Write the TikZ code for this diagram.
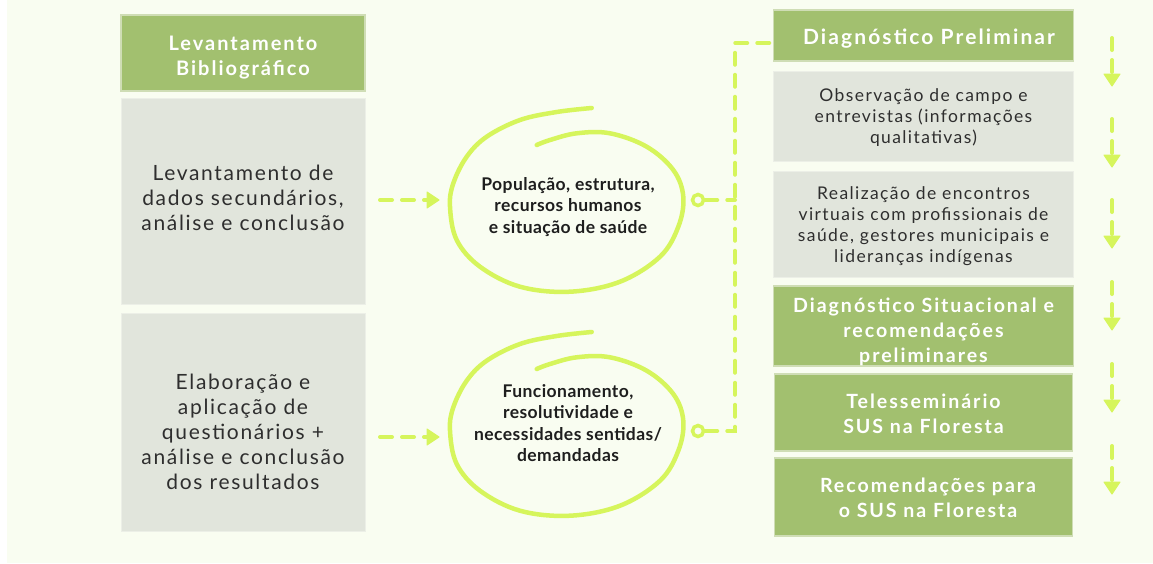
\documentclass[tikz,border=0pt]{standalone}
\usepackage{fontspec}
\setmainfont{Lato}
\newfontfamily\lsA{Lato}[LetterSpace=8]
\newfontfamily\lsB{Lato}[LetterSpace=10]
\newfontfamily\lsC{Lato}[LetterSpace=2.5]
\usetikzlibrary{arrows.meta}
\definecolor{bg}{HTML}{F9FDF1}
\definecolor{gbox}{HTML}{A2C06F}
\definecolor{gedge}{HTML}{CFDDB5}
\definecolor{greybox}{HTML}{E1E5DC}
\definecolor{gredge}{HTML}{ECEFE7}
\definecolor{lime}{HTML}{D6F55C}
\definecolor{txtd}{HTML}{1E1E1E}
\definecolor{txtg}{HTML}{2E2E2E}
\begin{document}
\begin{tikzpicture}[x=1pt,y=-1pt,
  greenbox/.style={fill=gbox,draw=gedge,line width=1.2pt,inner sep=0pt},
  greybox/.style={fill=greybox,draw=gredge,line width=1pt,inner sep=0pt},
  bigtxt/.style={font=\lsA\fontsize{21}{25}\selectfont,text=txtg,align=center},
  gtxt/.style={font=\lsB\bfseries\fontsize{20}{25}\selectfont,text=white,align=center},
  rgtxt/.style={font=\lsB\bfseries\fontsize{19.6}{25}\selectfont,text=white,align=center},
  rtxt/.style={font=\lsA\fontsize{17.5}{21}\selectfont,text=txtg,align=center},
  ctxt/.style={font=\lsC\bfseries\fontsize{17.5}{21.5}\selectfont,text=txtd,align=center},
  conn/.style={draw=lime,line width=4pt,dash pattern=on 12pt off 10pt,line cap=round},
  shaft/.style={conn,shorten >=10pt},
  head/.style={draw=lime,fill=lime,line width=1pt,line join=round},
  scribble/.style={draw=lime,line width=4.5pt,line cap=round},
  ring/.style={circle,draw=lime,line width=3.5pt,minimum size=11pt,inner sep=0pt}]
\useasboundingbox (0,0) rectangle (1153,563);
\fill[bg] (7,0) rectangle (1153,563);
% left column
\node[greenbox,minimum width=244,minimum height=76] (lb) at (243,53) {};
\node[gtxt] (lbt) at (243,58) {Levantamento\\Bibliogr\'afico};
\node[greybox,minimum width=244,minimum height=206] (g1) at (243,201) {};
\node[bigtxt] (t1) at (243,198) {Levantamento de\\dados secund\'arios,\\an\'alise e conclus\~ao};
\node[greybox,minimum width=244,minimum height=218] (g2) at (243,422) {};
\node[bigtxt] (t2) at (243,432) {Elabora\c{c}\~ao e\\aplica\c{c}\~ao de\\question\'arios +\\an\'alise e conclus\~ao\\dos resultados};
% left arrows
\foreach \y/\n in {200/1,437/2}{
  \coordinate (la\n) at (380,\y);
  \coordinate (lb\n) at (439,\y);
  \draw[shaft] (la\n) -- (lb\n);
  \draw[head] (lb\n) -- ++(-12,-8) -- ++(0,16) -- cycle;
}
% scribbled circles
\foreach \dy in {0,224}{
\draw[scribble,shift={(0,\dy)}] plot[smooth,tension=0.6] coordinates {
 (591.7,108) (556.7,112) (520,120) (486.7,136.7) (466.7,156.7) (453.3,183.3) (450,206.7)
 (456.7,240) (480,266.7) (520,286.7) (570,291.7) (620,281.7) (660,256.7) (678.3,226.7)
 (683.3,196.7) (673.3,170) (646.7,146.7) (610,133.3) (576.7,133.3) (550,140) (536.7,145)};
}
\node[ctxt] (c1) at (568,207) {Popula\c{c}\~ao, estrutura,\\recursos humanos\\e situa\c{c}\~ao de sa\'ude};
\node[ctxt] (c2) at (568,423) {Funcionamento,\\resolutividade e\\necessidades sentidas/\\demandadas};
% rings and connector
\node[ring] (o1) at (698,200) {};
\node[ring] (o2) at (698,431) {};
\coordinate (j1) at (735,200);
\coordinate (j2) at (735,431);
\coordinate (jt) at (735,43);
% right column
\node[greenbox,minimum width=300,minimum height=51] (dp) at (923.5,35.5) {};
\node[font=\lsB\bfseries\fontsize{21}{25}\selectfont,text=white] (dpt) at (929,38.5) {Diagn\'ostico Preliminar};
\node[greybox,minimum width=300,minimum height=90] (ob) at (923.5,116) {};
\node[rtxt] (obt) at (923.5,117.5) {Observa\c{c}\~ao de campo e\\entrevistas (informa\c{c}\~oes\\qualitativas)};
\node[greybox,minimum width=300,minimum height=106] (re) at (923.5,224) {};
\node[rtxt] (ret) at (923.5,226.5) {Realiza\c{c}\~ao de encontros\\virtuais com profissionais de\\sa\'ude, gestores municipais e\\lideran\c{c}as ind\'igenas};
\node[greenbox,minimum width=300,minimum height=80] (ds) at (923.5,326) {};
\node[rgtxt] (dst) at (923.5,332) {Diagn\'ostico Situacional e\\recomenda\c{c}\~oes\\preliminares};
\node[greenbox,minimum width=298,minimum height=77] (te) at (923.5,412.5) {};
\node[rgtxt] (tet) at (923.5,413.5) {Telessemin\'ario\\SUS na Floresta};
\node[greenbox,minimum width=298,minimum height=78] (rc) at (923.5,497) {};
\node[rgtxt] (rct) at (928,498) {Recomenda\c{c}\~oes para\\o SUS na Floresta};
\draw[conn] (o2.east) -- (j2) -- (jt) -- (dp.west |- jt);
\draw[conn] (o1.east) -- (j1);
% right arrows
\foreach \y/\n in {38/1,119/2,200/3,282/4,364/5,446/6}{
  \coordinate (ra\n) at (1112,\y);
  \coordinate (rb\n) at (1112,\y+48);
  \draw[shaft] (ra\n) -- (rb\n);
  \draw[head] (rb\n) -- ++(-8,-12) -- ++(16,0) -- cycle;
}
\end{tikzpicture}
\end{document}
